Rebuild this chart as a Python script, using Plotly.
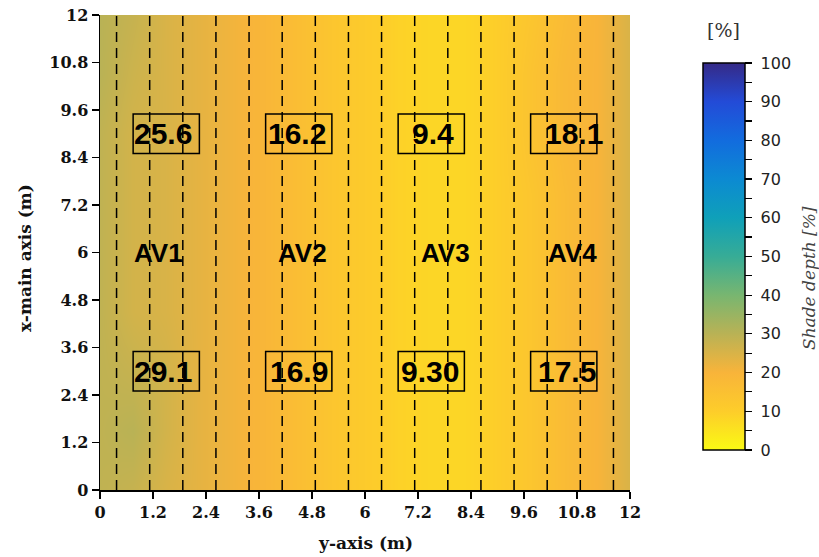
import plotly.graph_objects as go

# ---------------- data ----------------
grid_x = [0, 0.75, 1.5, 2.25, 3, 3.75, 4.5, 5.25, 6, 6.75, 7.5, 8.25, 9, 9.75, 10.5, 11.25, 12]
grid_y = [0, 1.5, 3, 4.5, 6, 7.5, 9, 10.5, 12]
shade_depth = [
    [29, 28, 25, 23, 21, 19, 16, 13, 11, 9, 8, 8, 10, 13, 17, 20, 25],
    [29, 30, 26, 23, 21, 19, 16, 13, 11, 9, 8, 8, 10, 13, 17, 20, 25],
    [29, 28, 26, 23, 21, 19, 16, 13, 11, 9, 8, 8, 10, 13, 17, 20, 25],
    [29, 26, 25, 23, 21, 19, 16, 13, 11, 9, 8, 8, 10, 13, 17, 20, 25],
    [29, 26, 25, 23, 21, 19, 16, 13, 11, 9, 8, 8, 10, 13, 17, 20, 25],
    [29, 26, 25, 23, 21, 19, 16, 13, 11, 9, 8, 8, 10, 13, 17, 20, 25],
    [29, 26, 25, 23, 21, 19, 16, 13, 11, 9, 8, 8, 10, 14, 18, 20, 25],
    [30, 27, 25, 23, 21, 19, 16, 13, 11, 9, 8, 8, 10, 14, 18, 20, 25],
    [30, 28, 25, 23, 21, 19, 16, 13, 11, 9, 8, 8, 10, 13, 17, 20, 25],
]
panel_row_lines = [0.375, 1.125, 1.875, 2.625, 3.375, 4.125, 4.875, 5.625,
                   6.375, 7.125, 7.875, 8.625, 9.375, 10.125, 10.875, 11.625]
av_names = ["AV1", "AV2", "AV3", "AV4"]
av_centers = [1.5, 4.5, 7.5, 10.5]
av_label_x = [1.32, 4.58, 7.83, 10.7]
av_label_y = 6
upper_values = ["25.6", "16.2", "9.4", "18.1"]
upper_value_x = [1.43, 4.47, 7.54, 10.74]
upper_y = 9.0
lower_values = ["29.1", "16.9", "9.30", "17.5"]
lower_value_x = [1.43, 4.5, 7.47, 10.57]
lower_y = 3.0
tick_vals = [0, 1.2, 2.4, 3.6, 4.8, 6, 7.2, 8.4, 9.6, 10.8, 12]
tick_text = ["0", "1.2", "2.4", "3.6", "4.8", "6", "7.2", "8.4", "9.6", "10.8", "12"]
cbar_vals = list(range(0, 101, 5))
cbar_text = [(" " + str(v)) if v % 10 == 0 else "" for v in cbar_vals]

colorscale = [
    [0.0, "rgb(250,250,20)"],
    [0.1, "rgb(253,205,42)"],
    [0.2, "rgb(248,180,58)"],
    [0.3, "rgb(185,178,85)"],
    [0.4, "rgb(120,182,112)"],
    [0.5, "rgb(55,172,150)"],
    [0.6, "rgb(15,160,185)"],
    [0.7, "rgb(12,138,210)"],
    [0.8, "rgb(18,108,222)"],
    [0.9, "rgb(35,75,215)"],
    [1.0, "rgb(53,42,135)"],
]

W, H = 819, 557
# target plot area in page pixels
SL, SR, ST, SB = 100, 630, 15, 490
L, T = SL, ST
R, B = W - SR, H - SB
plot_w = SR - SL
plot_h = SB - ST


def px(sx):
    return (sx - SL) / plot_w


def py(sy):
    return (SB - sy) / plot_h


fig = go.Figure()
fig.add_trace(go.Heatmap(
    x=grid_x, y=grid_y, z=shade_depth, zmin=0, zmax=100,
    zsmooth="best", colorscale=colorscale,
    colorbar=dict(
        x=px(703), xanchor="left",
        y=py(256.4), yanchor="middle",
        len=387 / plot_h, lenmode="fraction",
        thickness=42, outlinewidth=1.5, outlinecolor="black",
        ticks="outside", ticklen=7, tickwidth=1.2, tickcolor="black",
        tickvals=cbar_vals, ticktext=cbar_text,
        tickfont=dict(family="DejaVu Sans", size=16, color="#222"),
        xpad=0, ypad=0,
    ),
    showscale=True, hoverinfo="skip",
))

shapes = []
for xv in panel_row_lines:
    shapes.append(dict(type="line", xref="x", yref="y", x0=xv, x1=xv, y0=0, y1=12,
                       line=dict(color="black", width=1.5, dash="10px,6px")))
half_w, half_h = 0.75, 0.5
for c in av_centers:
    for yc in (upper_y, lower_y):
        shapes.append(dict(type="rect", xref="x", yref="y",
                           x0=c - half_w, x1=c + half_w, y0=yc - half_h, y1=yc + half_h,
                           line=dict(color="black", width=1.5)))

annotations = []
num_font = dict(family="Liberation Sans", size=30, color="black", weight="bold")
for name, xv in zip(av_names, av_label_x):
    annotations.append(dict(x=xv, y=av_label_y, xref="x", yref="y", text=name, showarrow=False,
                            xanchor="center", yanchor="middle",
                            font=dict(family="Liberation Sans", size=26, color="black", weight="bold")))
for t, xv in zip(upper_values, upper_value_x):
    annotations.append(dict(x=xv, y=upper_y, xref="x", yref="y", text=t, showarrow=False,
                            xanchor="center", yanchor="middle", font=num_font))
for t, xv in zip(lower_values, lower_value_x):
    annotations.append(dict(x=xv, y=lower_y, xref="x", yref="y", text=t, showarrow=False,
                            xanchor="center", yanchor="middle", font=num_font))

annotations.append(dict(x=px(25), y=py(258), xref="paper", yref="paper",
                        xanchor="center", yanchor="middle",
                        text="x-main axis (m)", textangle=-90, showarrow=False,
                        font=dict(family="DejaVu Serif", size=17, color="#111", weight="bold")))
annotations.append(dict(x=px(365), y=py(543), xref="paper", yref="paper",
                        xanchor="center", yanchor="middle",
                        text="y-axis (m)", showarrow=False,
                        font=dict(family="DejaVu Serif", size=17, color="#111", weight="bold")))
annotations.append(dict(x=px(723), y=py(30), xref="paper", yref="paper",
                        xanchor="center", yanchor="middle",
                        text="[%]", showarrow=False,
                        font=dict(family="DejaVu Serif", size=19, color="#333")))
annotations.append(dict(x=px(809), y=py(278), xref="paper", yref="paper",
                        xanchor="center", yanchor="middle",
                        text="Shade depth [%]", textangle=-90, showarrow=False,
                        font=dict(family="DejaVu Serif", size=17, color="#444", style="italic")))

axis_common = dict(
    range=[0, 12], tickvals=tick_vals, ticktext=tick_text, automargin=False,
    ticklabeloverflow="allow",
    showgrid=False, zeroline=False, showline=True, linecolor="black", linewidth=1.5,
    ticks="outside", ticklen=7, tickwidth=1.5, tickcolor="black",
    tickfont=dict(family="DejaVu Serif", size=16, color="#111", weight="bold"),
)

fig.update_layout(
    width=W, height=H,
    margin=dict(l=L, r=R, t=T, b=B, autoexpand=False),
    paper_bgcolor="white", plot_bgcolor="white",
    xaxis=dict(**axis_common),
    yaxis=dict(**axis_common),
    shapes=shapes, annotations=annotations,
    showlegend=False,
)

fig.write_html(
    "out.html",
    config={"displayModeBar": False, "staticPlot": True},
    post_script="document.body.style.margin='0';document.documentElement.style.overflow='hidden';",
)
